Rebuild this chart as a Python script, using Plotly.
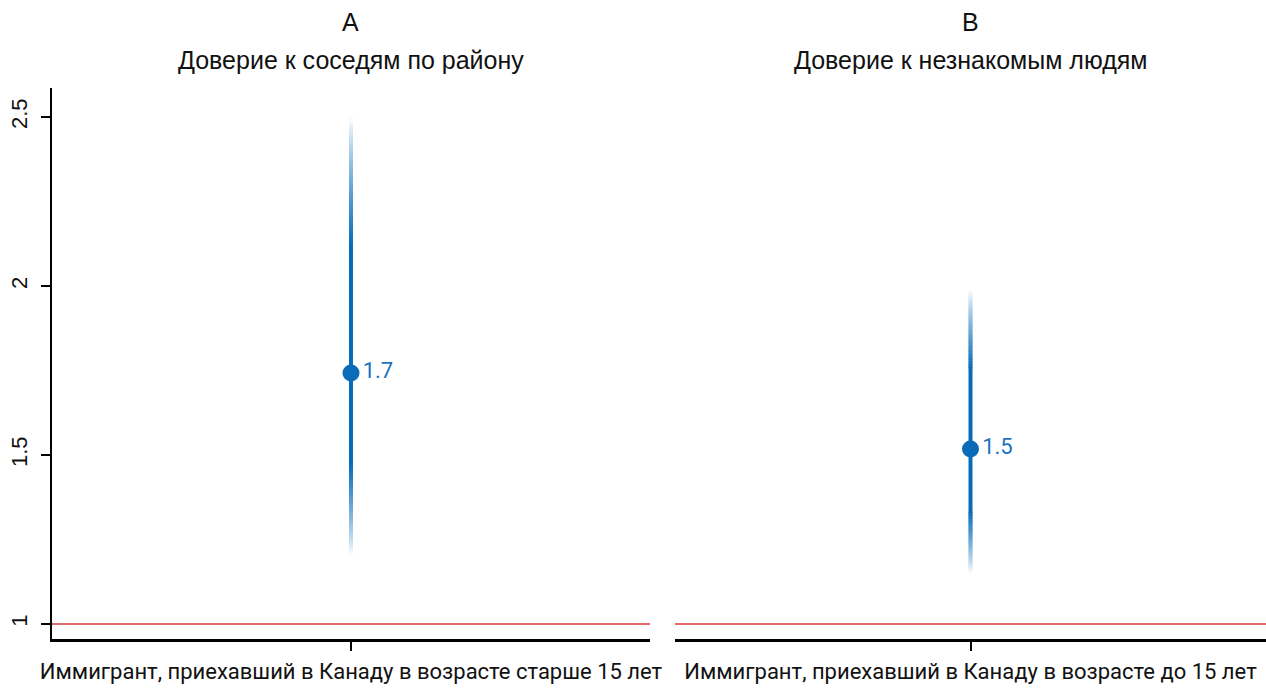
import numpy as np
import plotly.graph_objects as go

# ---- data ----
panels = ["A", "B"]
subtitles = ["Доверие к соседям по району", "Доверие к незнакомым людям"]
categories = ["Иммигрант, приехавший в Канаду в возрасте старше 15 лет",
              "Иммигрант, приехавший в Канаду в возрасте до 15 лет"]
estimates = [1.743, 1.518]
labels = ["1.7", "1.5"]
lower = [1.204, 1.151]
upper = [2.497, 1.988]
reference_value = 1.0
y_ticks = [1, 1.5, 2, 2.5]
y_ticktext = ["1", "1.5", "2", "2.5"]

BLUE = np.array([6, 108, 186])
WHITE = np.array([255, 255, 255])
RED = "#d9383a"
FONT = "Liberation Sans, Arial, sans-serif"
LABEL_FONT = "Roboto, Liberation Sans, sans-serif"

W, H = 1266, 688
fig = go.Figure()

xaxes = ["x", "x2"]
yaxes = ["y", "y2"]
n_fade = 40


def add_seg(cat, a, b, alpha, i):
    col = (alpha * BLUE + (1 - alpha) * WHITE).round().astype(int)
    fig.add_trace(go.Scatter(
        x=[cat, cat], y=[a, b], mode="lines",
        line=dict(color=f"rgb({col[0]},{col[1]},{col[2]})", width=4),
        xaxis=xaxes[i], yaxis=yaxes[i], hoverinfo="skip", showlegend=False))


for i in range(2):
    cat = categories[i]
    est, lo, hi = estimates[i], lower[i], upper[i]
    solid_lo = est - 0.5 * (est - lo)
    solid_hi = est + 0.5 * (hi - est)
    # fading tails (styling of the interval ends)
    for start, end in ((solid_lo, lo), (solid_hi, hi)):
        edges = np.linspace(start, end, n_fade + 1)
        step = edges[1] - edges[0]
        for k in range(n_fade):
            t = (k + 0.5) / n_fade
            alpha = (1 - t) ** 0.8
            a = edges[k] - 0.3 * step
            b = edges[k + 1] + 0.3 * step if k < n_fade - 1 else edges[k + 1]
            add_seg(cat, a, b, alpha, i)
    add_seg(cat, solid_lo, solid_hi, 1.0, i)
    fig.add_trace(go.Scatter(
        x=[cat], y=[est], mode="markers+text",
        marker=dict(size=17, color="#0a6cb9"),
        text=[labels[i]], textposition="middle right",
        textfont=dict(size=22, color="#1a72c0", family=LABEL_FONT),
        xaxis=xaxes[i], yaxis=yaxes[i], showlegend=False, cliponaxis=False))

ydom = [(H - 639) / H, (H - 88) / H]
yr = [0.9556, 2.586]

common_x = dict(showgrid=False, zeroline=False, showline=True, linecolor="black",
                linewidth=2.5, ticks="outside", ticklen=9, tickwidth=2, tickcolor="black",
                range=[-1, 1], type="category", automargin=False,
                tickfont=dict(size=22, color="#111", family="Roboto, sans-serif"),
                ticklabelstandoff=2)

fig.update_layout(
    width=W, height=H,
    margin=dict(l=0, r=0, t=0, b=0, autoexpand=False),
    plot_bgcolor="white", paper_bgcolor="white",
    xaxis=dict(domain=[52 / W, 650 / W], anchor="y", **common_x),
    xaxis2=dict(domain=[675 / W, 1.0], anchor="y2", **common_x),
    yaxis=dict(domain=ydom, range=yr, anchor="x", showgrid=False, zeroline=False,
               showline=True, linecolor="black", linewidth=2, ticks="outside",
               ticklen=9, tickwidth=1.5, tickcolor="black", automargin=False,
               tickvals=y_ticks, ticktext=y_ticktext, tickangle=-90,
               tickfont=dict(size=22, color="#111", family=FONT),
               ticklabelstandoff=5),
    yaxis2=dict(domain=ydom, range=yr, anchor="x2", matches="y", showgrid=False,
                zeroline=False, showline=False, showticklabels=False, ticks="",
                automargin=False),
)

for i in range(2):
    xr = "x domain" if i == 0 else "x2 domain"
    yr_ = "y" if i == 0 else "y2"
    fig.add_shape(type="line", xref=xr, yref=yr_, x0=0, x1=1,
                  y0=reference_value, y1=reference_value,
                  line=dict(color=RED, width=1.5), layer="below")
    cx = (52 + 650) / 2 / W if i == 0 else (675 + 1266) / 2 / W
    fig.add_annotation(x=cx, y=1 - 22 / H, xref="paper", yref="paper",
                       xanchor="center", yanchor="middle",
                       text=panels[i], showarrow=False,
                       font=dict(size=25, color="#111", family=FONT))
    fig.add_annotation(x=cx, y=1 - 60 / H, xref="paper", yref="paper",
                       xanchor="center", yanchor="middle",
                       text=subtitles[i], showarrow=False,
                       font=dict(size=25, color="#111", family=FONT))

fig.write_html("out.html", config={"displayModeBar": False},
               post_script="document.body.style.margin='0';document.body.style.overflow='hidden';")
